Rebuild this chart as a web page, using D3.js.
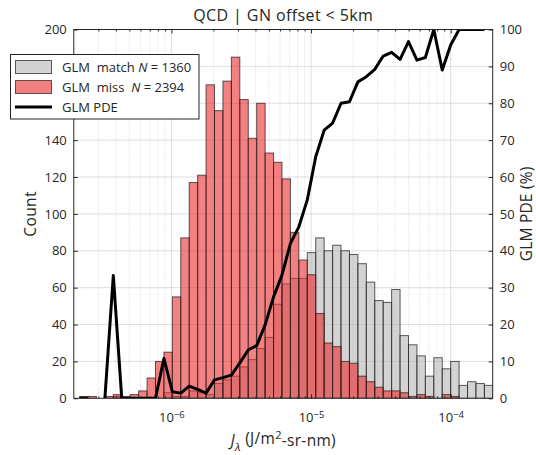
<!DOCTYPE html>
<html>
<head>
<meta charset="utf-8">
<script src="https://cdn.jsdelivr.net/npm/d3@7"></script>
<style>
  html, body { margin: 0; padding: 0; background: #fff; }
  svg text { font-family: "Open Sans", Lato, sans-serif; fill: #262626; }
</style>
</head>
<body>
<svg id="chart" width="536" height="455"></svg>
<script>
// Histogram bins: 50 log-spaced bins (log10 of J_lambda)
const binLogStart = -6.718;
const binLogStep = 0.0604;
const binCount = 50;

// Counts per bin for GLM-matched flashes
const matchCounts = [0,0,0,0,0,1,0,0,0,0,0,3,1,1,4,3,2,8,10,12,17,21,27,33,51,62,65,65,79,87,80,83,80,78,73,63,53,52,59,34,29,23,12,22,16,20,7,9,8,7];
// Counts per bin for GLM-missed flashes
const missCounts = [0,1,1,0,1,2,1,2,4,11,20,25,55,87,117,121,170,156,172,185,162,141,160,133,128,119,90,75,67,46,30,28,20,19,12,9,6,4,4,3,1,2,1,0,2,1,0,0,0,0];
// GLM detection efficiency per bin (%), null where a bin is empty
const pdeValues = [null,0,0,null,0,33.3,0,0,0,0,0,10.8,1.8,1.4,3.3,2.4,1.4,5.0,5.6,6.3,9.6,13.1,14.3,19.9,27.5,33.4,42,46.5,53.8,65.5,72.7,74.6,80.0,80.4,85.8,87.2,89.2,92.8,93.8,91.9,96.7,91.7,92.4,100,89.0,95.8,100,100,100,100];

const xDomain = [2e-7, 2e-4];
const xMajorTicks = [1e-6, 1e-5, 1e-4];
const countTicks = [0,20,40,60,80,100,120,140,160,180,200];
// 160 and 180 sit behind the legend box
const countTickLabels = [0,20,40,60,80,100,120,140,200];
const pdeTicks = [0,10,20,30,40,50,60,70,80,90,100];

const titleText = "QCD | GN offset < 5km";
const legendLabels = ["GLM  match", "GLM  miss "];
const legendLineLabel = "GLM PDE";
const legendN = [1360, 2394];

const svg = d3.select("#chart");
const L = 73.8, R = 492.7, T = 29.5, B = 398.3;

const x = d3.scaleLog().domain(xDomain).range([L, R]);
const yL = d3.scaleLinear().domain([0, 200]).range([B, T]);
const yR = d3.scaleLinear().domain([0, 100]).range([B, T]);

const edges = d3.range(binCount + 1).map(i => Math.pow(10, binLogStart + i * binLogStep));

svg.append("defs").append("clipPath").attr("id", "plotClip")
  .append("rect").attr("x", L).attr("y", T).attr("width", R - L).attr("height", B - T);

// Grid
const minorTicks = [];
for (let e = -7; e <= -4; e++) {
  for (let m = 2; m <= 9; m++) {
    const v = m * Math.pow(10, e);
    if (v > xDomain[0] && v < xDomain[1]) minorTicks.push(v);
  }
}
const grid = svg.append("g");
grid.selectAll("line.minor").data(minorTicks).join("line")
  .attr("x1", d => x(d)).attr("x2", d => x(d)).attr("y1", T).attr("y2", B)
  .attr("stroke", "rgba(38,38,38,0.28)").attr("stroke-width", 0.7).attr("stroke-dasharray", "1,2");
grid.selectAll("line.major").data(xMajorTicks).join("line")
  .attr("x1", d => x(d)).attr("x2", d => x(d)).attr("y1", T).attr("y2", B)
  .attr("stroke", "rgba(38,38,38,0.15)").attr("stroke-width", 1);
grid.selectAll("line.h").data(countTicks.slice(1, -1)).join("line")
  .attr("x1", L).attr("x2", R).attr("y1", d => yL(d)).attr("y2", d => yL(d))
  .attr("stroke", "rgba(38,38,38,0.15)").attr("stroke-width", 1);

// Histograms
const plot = svg.append("g").attr("clip-path", "url(#plotClip)");
function drawHist(counts, fill) {
  const bins = counts.map((c, i) => ({ c, x0: edges[i], x1: edges[i + 1] })).filter(d => d.c > 0);
  plot.append("g").selectAll("rect").data(bins).join("rect")
    .attr("x", d => x(d.x0)).attr("width", d => x(d.x1) - x(d.x0))
    .attr("y", d => yL(d.c)).attr("height", d => yL(0) - yL(d.c))
    .attr("fill", fill).attr("stroke", "rgba(30,30,30,0.72)").attr("stroke-width", 1);
}
const matchFill = "rgba(182,182,182,0.6)";
const missFill = "rgba(235,45,45,0.6)";
drawHist(matchCounts, matchFill);
drawHist(missCounts, missFill);

// PDE line at bin edges
const pdePts = pdeValues.map((v, i) => ({ x: edges[i], v }));
plot.append("path").datum(pdePts)
  .attr("d", d3.line().defined(d => d.v !== null).x(d => x(d.x)).y(d => yR(d.v)))
  .attr("fill", "none").attr("stroke", "#000").attr("stroke-width", 3).attr("stroke-linejoin", "round");

// Axes
const axisColor = "#262626";
const tickFont = 13;
const gL = svg.append("g").attr("transform", `translate(${L},0)`)
  .call(d3.axisLeft(yL).tickValues(countTicks).tickSizeInner(-4).tickSizeOuter(0).tickPadding(7)
    .tickFormat(d => countTickLabels.includes(d) ? d : ""));
const gR = svg.append("g").attr("transform", `translate(${R},0)`)
  .call(d3.axisRight(yR).tickValues(pdeTicks).tickSizeInner(-4).tickSizeOuter(0).tickPadding(7));
const gB = svg.append("g").attr("transform", `translate(0,${B})`)
  .call(d3.axisBottom(x).tickValues(xMajorTicks).tickSizeInner(-4).tickSizeOuter(0).tickPadding(10).tickFormat(() => ""));
const gBm = svg.append("g").attr("transform", `translate(0,${B})`)
  .call(d3.axisBottom(x).tickValues(minorTicks).tickSizeInner(-2).tickSizeOuter(0).tickFormat(() => ""));
const gT = svg.append("g").attr("transform", `translate(0,${T})`)
  .call(d3.axisTop(x).tickValues(xMajorTicks).tickSizeInner(-4).tickSizeOuter(0).tickFormat(() => ""));
const gTm = svg.append("g").attr("transform", `translate(0,${T})`)
  .call(d3.axisTop(x).tickValues(minorTicks).tickSizeInner(-2).tickSizeOuter(0).tickFormat(() => ""));
[gL, gR, gB, gBm, gT, gTm].forEach(g => {
  g.select(".domain").remove();
  g.selectAll(".tick line").attr("stroke", axisColor);
  g.selectAll(".tick text").attr("font-size", tickFont).attr("fill", axisColor)
    .style("font-family", "'Open Sans', sans-serif");
  g.selectAll(".tick text").filter(function () { return this.textContent === ""; }).remove();
});
gB.selectAll(".tick").each(function (d) {
  const t = d3.select(this).append("text").attr("y", 24).attr("text-anchor", "middle")
    .attr("font-size", tickFont).attr("fill", axisColor).style("font-family", "'Open Sans', sans-serif");
  t.append("tspan").text("10");
  t.append("tspan").attr("dy", "-0.5em").attr("font-size", 9.5).text("\u2212" + Math.round(-Math.log10(d)));
});

// Frame
svg.append("rect").attr("x", L).attr("y", T).attr("width", R - L).attr("height", B - T)
  .attr("fill", "none").attr("stroke", axisColor).attr("stroke-width", 1);

// Labels
const labelFont = 15.5;
svg.append("text").attr("x", (L + R) / 2).attr("y", 21).attr("text-anchor", "middle")
  .attr("font-size", 16).attr("letter-spacing", 0.4).text(titleText);
svg.append("text").attr("transform", `translate(36,${(T + B) / 2}) rotate(-90)`)
  .attr("text-anchor", "middle").attr("font-size", labelFont).attr("letter-spacing", 0.4).text("Count");
svg.append("text").attr("transform", `translate(532,${(T + B) / 2}) rotate(-90)`)
  .attr("text-anchor", "middle").attr("font-size", labelFont).attr("letter-spacing", 0.2).text("GLM PDE (%)");
const xl = svg.append("text").attr("x", (L + R) / 2).attr("y", 446).attr("text-anchor", "middle")
  .attr("font-size", labelFont).attr("letter-spacing", 0.3);
xl.append("tspan").attr("font-style", "italic").text("J");
xl.append("tspan").attr("font-style", "italic").attr("font-size", 11.5).attr("dy", "0.4em").text("\u03bb");
xl.append("tspan").attr("dy", "-0.4em").text(" (J/m");
xl.append("tspan").attr("dy", "-0.45em").attr("font-size", 11).text("2");
xl.append("tspan").attr("dy", "0.45em").text("-sr-nm)");

// Legend
const lg = svg.append("g");
lg.append("rect").attr("x", 10.5).attr("y", 54.5).attr("width", 188.5).attr("height", 64.5)
  .attr("fill", "#fff").attr("stroke", axisColor).attr("stroke-width", 1);
const rows = [60, 80, 100];
[matchFill, missFill].forEach((f, i) => {
  lg.append("rect").attr("x", 15.5).attr("y", rows[i] + 0.5).attr("width", 36).attr("height", 13)
    .attr("fill", f).attr("stroke", "rgba(30,30,30,0.72)").attr("stroke-width", 1);
});
lg.append("line").attr("x1", 15).attr("x2", 52).attr("y1", rows[2] + 7).attr("y2", rows[2] + 7)
  .attr("stroke", "#000").attr("stroke-width", 3);
legendLabels.forEach((lab, i) => {
  const t = lg.append("text").attr("x", 62).attr("y", rows[i] + 11.5).attr("font-size", 13)
    .attr("xml:space", "preserve").style("white-space", "pre");
  t.append("tspan").text(lab + " ");
  t.append("tspan").attr("font-style", "italic").text("N");
  t.append("tspan").text(" = " + legendN[i]);
});
lg.append("text").attr("x", 62).attr("y", rows[2] + 11.5).attr("font-size", 13).text(legendLineLabel);
</script>
</body>
</html>
